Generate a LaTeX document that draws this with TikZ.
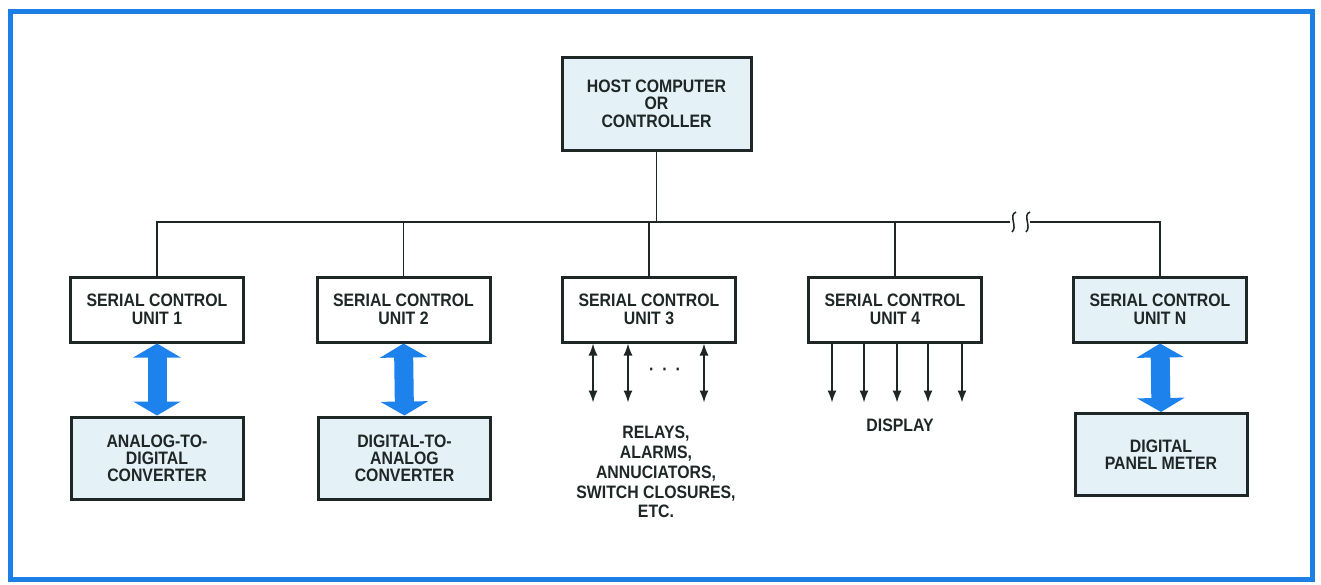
\documentclass[tikz,border=0pt]{standalone}
\usepackage{fontspec}
\setmainfont{Liberation Sans}[FakeStretch=0.88]
\usepackage{xcolor}
\usetikzlibrary{arrows.meta}
\definecolor{frameblue}{HTML}{1C7FE6}
\definecolor{busblue}{HTML}{1D82EC}
\definecolor{panelfill}{HTML}{E4F1F6}
\definecolor{inkdark}{HTML}{1E2626}

\begin{document}
\begin{tikzpicture}[
  x=0.5pt, y=-0.5pt,
  unitbox/.style ={draw=inkdark, line width=1.5pt, fill=white,
                   minimum width=86.5pt, minimum height=32.5pt, inner sep=0pt,
                   align=center, text=inkdark,
                   font=\fontsize{9}{9}\selectfont\bfseries},
  devbox/.style  ={unitbox, fill=panelfill, minimum width=86pt, minimum height=41pt,
                   font=\fontsize{9}{8.5}\selectfont\bfseries},
  hostbox/.style ={unitbox, fill=panelfill, minimum width=94.5pt, minimum height=46.5pt,
                   font=\fontsize{9}{8.8}\selectfont\bfseries},
  note/.style    ={align=center, text=inkdark, inner sep=0pt,
                   font=\fontsize{9}{9.9}\selectfont\bfseries},
  wire/.style    ={line width=0.75pt, inkdark},
  io/.style      ={{Latex[length=6pt,width=4.5pt]}-{Latex[length=6pt,width=4.5pt]},
                   line width=0.75pt, inkdark},
  feed/.style    ={-{Latex[length=6pt,width=4.5pt]}, line width=0.75pt, inkdark},
  fat/.style     ={{Triangle[length=7pt,width=23.5pt]}-{Triangle[length=7pt,width=23.5pt]},
                   line width=9.5pt, busblue},
]
\useasboundingbox (0,0) rectangle (1321,584);

% ---------------- frame ----------------
\draw[frameblue, line width=2.5pt] (10,11) rectangle (1312,579);

% ---------------- host and serial control units ----------------
\node[hostbox] (host) at (656.5,103.5) {HOST COMPUTER\\OR\\CONTROLLER};

\node[unitbox] (scu1) at (157,309.5)   {SERIAL CONTROL\\UNIT 1};
\node[unitbox] (scu2) at (403.5,309.5) {SERIAL CONTROL\\UNIT 2};
\node[unitbox] (scu3) at (649,309.5)   {SERIAL CONTROL\\UNIT 3};
\node[unitbox] (scu4) at (895,309.5)   {SERIAL CONTROL\\UNIT 4};
\node[unitbox, fill=panelfill] (scun) at (1160,309.5) {SERIAL CONTROL\\UNIT N};

% ---------------- serial bus ----------------
\coordinate (busL) at (157,222);
\coordinate (brkL) at (1010,222);
\coordinate (brkR) at (1030,222);
\draw[wire] (scu1.north) |- (brkL);
\draw[wire] (brkR) -| (scun.north);
\draw[wire] (host.south) -- (host.south |- busL);
\foreach \u in {scu2,scu3,scu4}
  \draw[wire] (\u.north) -- (\u.north |- busL);
% break marks
\draw[wire] (1016,212) .. controls (1008,215) and (1018,227) .. (1012,232);
\draw[wire] (1030,212) .. controls (1022,215) and (1032,227) .. (1026,232);

% ---------------- devices ----------------
\node[devbox] (adc) at (157,458)    {ANALOG-TO-\\DIGITAL\\CONVERTER};
\node[devbox] (dac) at (404.5,458)  {DIGITAL-TO-\\ANALOG\\CONVERTER};
\node[devbox] (dpm) at (1161,454.5) {DIGITAL\\PANEL METER};

\draw[fat] (scu1.south) -- (adc.north);
\draw[fat] (scu2.south) -- (dac.north);
\draw[fat] (scun.south) -- (dpm.north);

% ---------------- discrete lines ----------------
\foreach \dx [count=\i] in {-56,-21,55} {
  \coordinate (rl\i) at ([shift={(\dx,59)}]scu3.south);
  \draw[io] ([xshift=\dx*0.5pt]scu3.south) -- (rl\i);
}
\node[note] (dots) at (665,372) {·\hspace{4pt}·\hspace{4pt}·};
\node[note] (relays) at (656,472)
  {RELAYS,\\ALARMS,\\ANNUCIATORS,\\SWITCH CLOSURES,\\ETC.};

\foreach \dx [count=\i] in {-63,-31,2,33,67} {
  \coordinate (dl\i) at ([shift={(\dx,59)}]scu4.south);
  \draw[feed] ([xshift=\dx*0.5pt]scu4.south) -- (dl\i);
}
\node[note] (disp) at (900,425) {DISPLAY};

\end{tikzpicture}
\end{document}
